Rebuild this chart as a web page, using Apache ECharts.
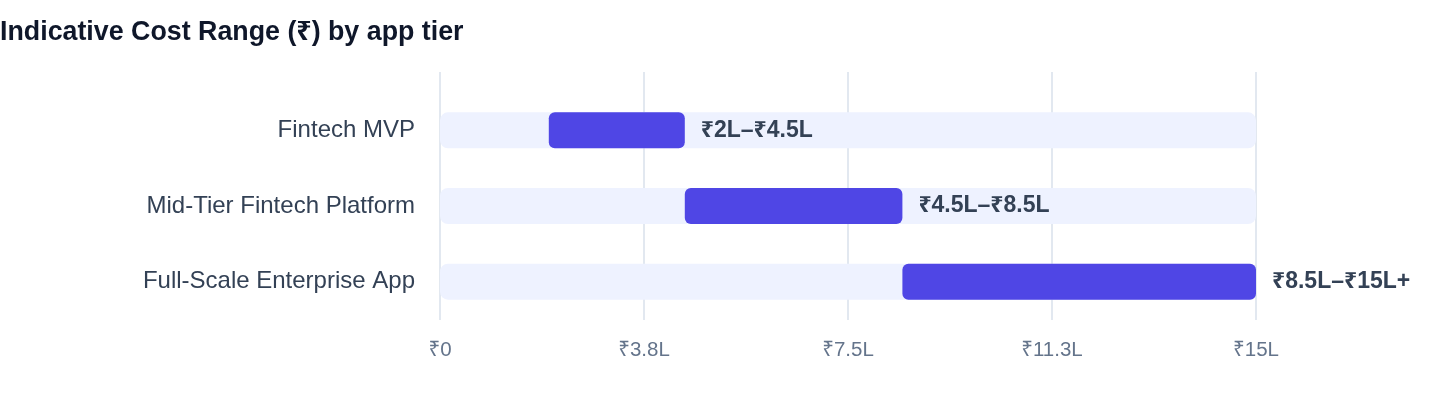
<!DOCTYPE html>
<html>
<head>
<meta charset="utf-8">
<script src="https://cdn.jsdelivr.net/npm/echarts@6/dist/echarts.min.js"></script>
<style>
html,body{margin:0;padding:0;background:#fff;}
#c{width:1440px;height:408px;}
</style>
</head>
<body>
<div id="c"></div>
<script>
const titleText = 'Indicative Cost Range (₹) by app tier';
const categories = ['Fintech MVP', 'Mid-Tier Fintech Platform', 'Full-Scale Enterprise App'];
const rangeStart = [2, 4.5, 8.5];
const rangeEnd = [4.5, 8.5, 15];
const rangeLabels = ['₹2L–₹4.5L', '₹4.5L–₹8.5L', '₹8.5L–₹15L+'];
const axisMin = 0, axisMax = 15, axisInterval = 3.75;

const FONT = "'Liberation Sans', Arial, Helvetica, 'Noto Sans', 'DejaVu Sans', sans-serif";
const chart = echarts.init(document.getElementById('c'), null, {renderer: 'canvas'});

const spans = rangeEnd.map((e, i) => e - rangeStart[i]);

chart.setOption({
  animation: false,
  textStyle: {fontFamily: FONT},
  title: {
    text: titleText, left: 0, top: 19, padding: 0,
    textStyle: {fontFamily: FONT, fontSize: 26.8, fontWeight: 'bold', color: '#0F172A'}
  },
  grid: [
    {left: 440, right: 184, top: 72, bottom: 88},
    {left: 440, right: 184, top: 92.5, bottom: 88.5}
  ],
  xAxis: [
    {
      gridIndex: 0, type: 'value', min: axisMin, max: axisMax, interval: axisInterval,
      axisLine: {show: false}, axisTick: {show: false},
      splitLine: {show: true, lineStyle: {color: '#E2E8F0', width: 2}},
      axisLabel: {
        margin: 20, fontSize: 20.5, color: '#64748B', fontFamily: FONT,
        formatter: v => v === 0 ? '₹0' : '₹' + (Math.round(v * 10) / 10) + 'L'
      }
    },
    {
      gridIndex: 1, type: 'value', min: axisMin, max: axisMax, interval: axisInterval,
      show: false, splitLine: {show: false}
    }
  ],
  yAxis: [
    {gridIndex: 0, type: 'value', min: 0, max: 1, show: false, splitLine: {show: false}},
    {
      gridIndex: 1, type: 'category', inverse: true, data: categories,
      axisLine: {show: false}, axisTick: {show: false},
      axisLabel: {margin: 25, fontSize: 24, color: '#334155', fontFamily: FONT}
    }
  ],
  series: [
    {
      type: 'bar', xAxisIndex: 1, yAxisIndex: 1, stack: 'r', barWidth: 36,
      data: rangeStart,
      itemStyle: {color: 'transparent'},
      showBackground: true,
      backgroundStyle: {color: '#EEF2FF', borderRadius: 8},
      silent: true
    },
    {
      type: 'bar', xAxisIndex: 1, yAxisIndex: 1, stack: 'r', barWidth: 36,
      data: spans,
      itemStyle: {color: '#4F46E5', borderRadius: 6},
      label: {
        show: true, position: 'right', distance: 16,
        formatter: p => rangeLabels[p.dataIndex],
        fontSize: 23, fontWeight: 'bold', color: '#334155', fontFamily: FONT
      }
    }
  ]
});
</script>
</body>
</html>
